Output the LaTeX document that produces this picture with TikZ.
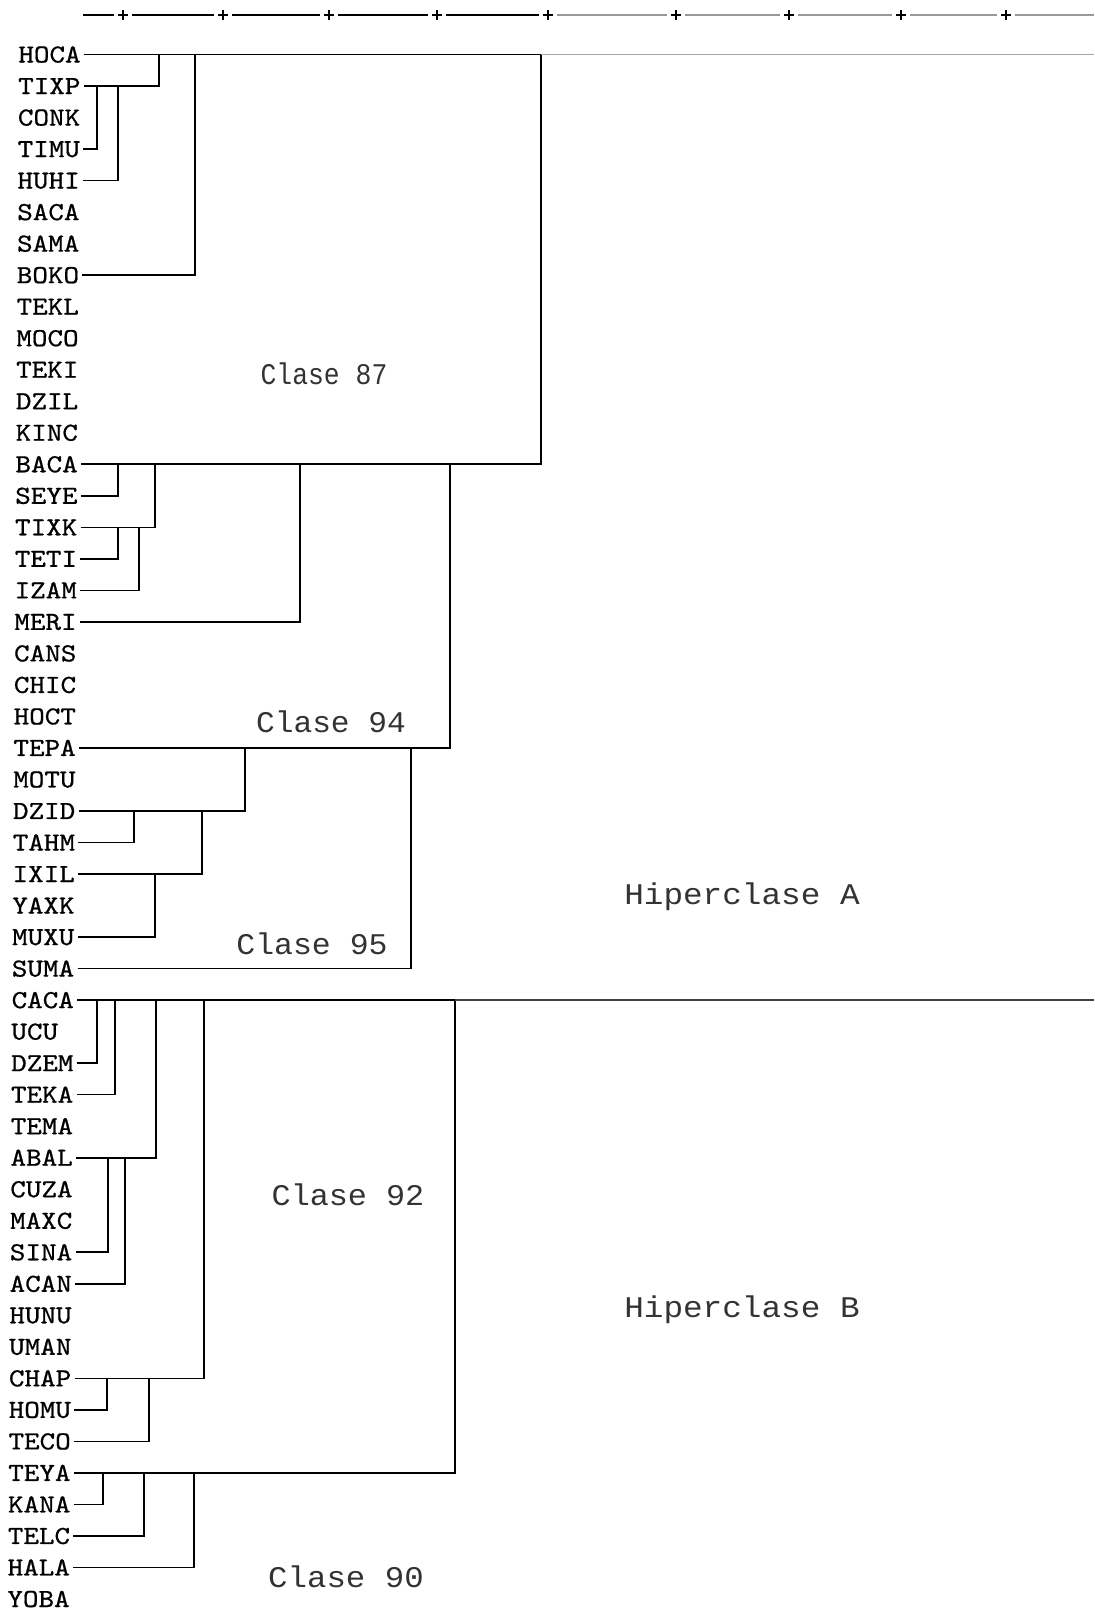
\documentclass[tikz,border=0pt]{standalone}
\usepackage{fontspec}
\usepackage{graphicx}
\newfontfamily\clasefont{Liberation Mono}
\newfontfamily\lblfont{lmmono10-regular.otf}[FakeBold=0.7]
\tikzset{
  lbl/.style={anchor=west, inner xsep=1.5pt, inner ysep=0pt, text height=8pt, text depth=0pt,
    font=\fontsize{13}{13}\selectfont\lblfont},
  clase/.style={inner sep=0pt, text=black!80, font=\fontsize{15}{15}\selectfont\clasefont},
  dend/.style={line width=0.8pt, black},
  faint/.style={line width=0.8pt, black!35},
  axisl/.style={line width=0.8pt, black},
  axisf/.style={line width=0.7pt, black!40},
  tick/.style={line width=0.9pt, black}
}
\begin{document}
\begin{tikzpicture}[x=0.5pt, y=-0.5pt]
\useasboundingbox (0,0) rectangle (1094,1612);
\fill[white] (0,0) rectangle (1094,1612);

% scale bar
\foreach \p in {123,223,329,437,548,676,789,901,1006} {
  \draw[tick] (\p-5,15) -- (\p+5,15) (\p,10) -- (\p,20);
}
\draw[axisl] (83,15) -- (114,15) (132,15) -- (214,15) (232,15) -- (320,15)
  (338,15) -- (428,15) (446,15) -- (539,15);
\draw[axisf] (557,15) -- (667,15) (685,15) -- (780,15) (798,15) -- (892,15)
  (910,15) -- (997,15) (1015,15) -- (1094,15);

% labels
\foreach \n [count=\i from 0] in {HOCA,TIXP,CONK,TIMU,HUHI,SACA,SAMA,BOKO,TEKL,MOCO,
  TEKI,DZIL,KINC,BACA,SEYE,TIXK,TETI,IZAM,MERI,CANS,CHIC,HOCT,TEPA,MOTU,DZID,TAHM,IXIL,
  YAXK,MUXU,SUMA,CACA,UCU,DZEM,TEKA,TEMA,ABAL,CUZA,MAXC,SINA,ACAN,HUNU,UMAN,CHAP,HOMU,
  TECO,TEYA,KANA,TELC,HALA,YOBA} {
  \node[lbl] (\n) at ({15-11*\i/49}, {54.5+31.52*\i}) {\scalebox{1.14}[1]{\n}};
}

% joins
\foreach \c/\x/\p in {TIXP/159/HOCA, TIMU/97/TIXP, HUHI/118/TIXP, BOKO/195/HOCA,
  BACA/541/HOCA, SEYE/118/BACA, TIXK/155/BACA, TETI/118/TIXK, IZAM/139/TIXK,
  MERI/300/BACA, TEPA/450/BACA, DZID/245/TEPA, TAHM/134/DZID, IXIL/202/DZID,
  MUXU/155/IXIL, SUMA/411/TEPA, DZEM/97/CACA, TEKA/115/CACA, ABAL/156/CACA,
  SINA/108/ABAL, ACAN/125/ABAL, CHAP/204/CACA, HOMU/107/CHAP, TECO/149/CHAP,
  TEYA/455/CACA, KANA/103/TEYA, TELC/144/TEYA, HALA/194/TEYA} {
  \coordinate (j\c) at (\x,0 |- \p);
  \draw[dend] (\c.east) -| (j\c);
}

% top lines to the right edge
\coordinate (endHOCA) at (1094,0 |- HOCA);
\coordinate (endCACA) at (1094,0 |- CACA);
\draw[dend] (HOCA.east) -- (jBACA);
\draw[faint] (jBACA) -- (endHOCA);
\draw[dend] (CACA.east) -- (jTEYA);
\draw[dend, black!75] (jTEYA) -- (endCACA);

% class labels
\node[clase] (c87) at (324,374) {\scalebox{0.88}[1]{Clase 87}};
\node[clase] (c94) at (331,722) {\scalebox{1.04}[1]{Clase 94}};
\node[clase] (c95) at (312,944) {\scalebox{1.05}[1]{Clase 95}};
\node[clase] (c92) at (348,1195) {\scalebox{1.06}[1]{Clase 92}};
\node[clase] (c90) at (346,1577) {\scalebox{1.08}[1]{Clase 90}};
\node[clase] (hA) at (742,897) {\scalebox{1.09}[1]{Hiperclase A}};
\node[clase] (hB) at (742,1310) {\scalebox{1.09}[1]{Hiperclase B}};
\end{tikzpicture}
\end{document}
